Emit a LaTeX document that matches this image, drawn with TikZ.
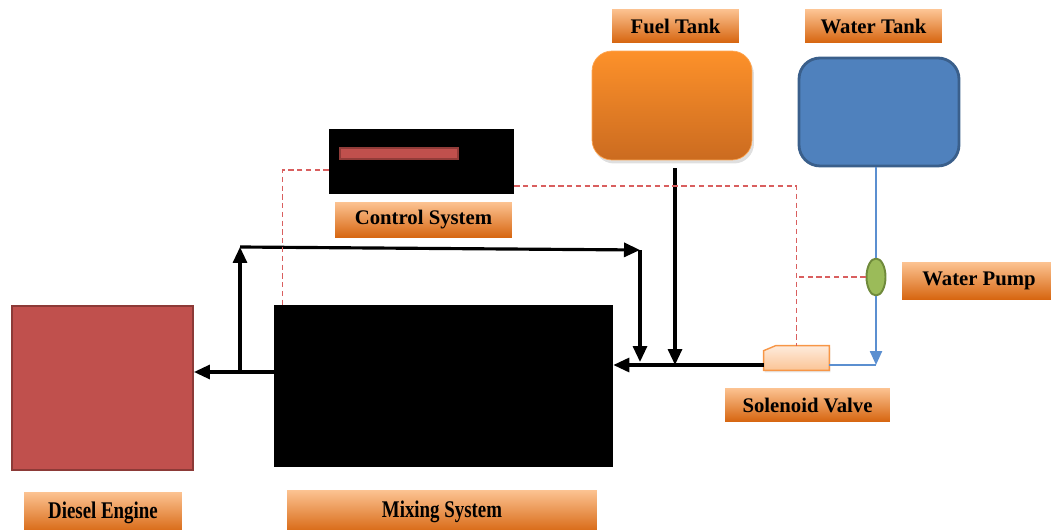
\documentclass[tikz,border=0pt]{standalone}
\usepackage{fontspec}
\setmainfont{Liberation Serif}
\newfontfamily\narrowserif{Liberation Serif}[FakeStretch=0.79]
\usepackage{tikz}
\usetikzlibrary{arrows.meta}
\usetikzlibrary{shapes.geometric}
\usetikzlibrary{shadows}

\definecolor{lbltop}{HTML}{FCC392}
\definecolor{lblbot}{HTML}{D6640E}
\definecolor{fueltop}{HTML}{FD912A}
\definecolor{fuelbot}{HTML}{CB6B20}
\definecolor{waterfill}{HTML}{4F81BD}
\definecolor{waterline}{HTML}{3A5F8B}
\definecolor{enginefill}{HTML}{C0504D}
\definecolor{engineline}{HTML}{8C3A37}
\definecolor{pumpfill}{HTML}{9BBB59}
\definecolor{pumpline}{HTML}{6F8A3B}
\definecolor{valvetop}{HTML}{FEEBDC}
\definecolor{valvebot}{HTML}{FBC495}
\definecolor{valveline}{HTML}{F79646}
\definecolor{pipeblue}{HTML}{5B8FD0}
\definecolor{sigred}{HTML}{D95F5F}

\tikzset{
  tag/.style={top color=lbltop, bottom color=lblbot, inner sep=0pt,
    font=\bfseries\fontsize{11.8}{13}\selectfont},
  smalltag/.style={tag, font=\narrowserif\bfseries\fontsize{13.6}{15}\selectfont},
  flow/.style={line width=1.8pt, -{Triangle[length=3.2mm,width=2.8mm]}},
  pipe/.style={pipeblue, line width=1.3pt},
  signal/.style={sigred, line width=0.6pt, dash pattern=on 3pt off 2pt},
}

\begin{document}
\begin{tikzpicture}[x=0.02cm,y=-0.02cm]

\useasboundingbox (0,0) rectangle (1051,530);

% tanks
\node [tag, minimum width=2.54cm, minimum height=0.68cm] (fuellbl) at (675.5,26) {Fuel Tank};
\node [top color=fueltop, bottom color=fuelbot, draw=fueltop!80!white, rounded corners=0.4cm,
       minimum width=3.2cm, minimum height=2.18cm,
       drop shadow={shadow xshift=0.04cm, shadow yshift=-0.07cm, opacity=0.25}] (fuel) at (672,105.5) {};

\node [tag, minimum width=2.74cm, minimum height=0.66cm] (waterlbl) at (873.5,26.5) {Water Tank};
\node [fill=waterfill, draw=waterline, line width=1.6pt, rounded corners=0.42cm,
       minimum width=3.2cm, minimum height=2.16cm] (water) at (879,112) {};

% control
\node [fill=black, minimum width=3.7cm, minimum height=1.3cm, inner sep=0pt] (ctrl) at (421.5,161.5) {};
\node [fill=enginefill, draw=engineline!90!enginefill, line width=0.9pt,
       minimum width=2.36cm, minimum height=0.22cm, inner sep=0pt] (bar) at (399,153.5) {};
\node [tag, minimum width=3.54cm, minimum height=0.72cm] (ctrllbl) at (423.5,220) {Control System};

% mixing and engine
\node [fill=black, minimum width=6.78cm, minimum height=3.24cm, inner sep=0pt] (mix) at (443.5,386) {};
\node [smalltag, minimum width=6.2cm, minimum height=0.88cm] (mixlbl) at (442,512) {Mixing System};

\node [fill=enginefill, draw=engineline, line width=1.1pt,
       minimum width=3.62cm, minimum height=3.28cm, inner sep=0pt] (engine) at (102.5,388) {};
\node [smalltag, minimum width=3.16cm, minimum height=0.84cm] (englbl) at (103,513) {Diesel Engine};

% pump and valve
\node [ellipse, fill=pumpfill, draw=pumpline, line width=1.1pt,
       minimum width=0.38cm, minimum height=0.74cm, inner sep=0pt] (pump) at (876,277) {};
\node [tag, minimum width=3.08cm, minimum height=0.76cm] (pumplbl) at (979,281) {Water Pump};

\node [minimum width=1.3cm, minimum height=0.48cm, inner sep=0pt] (valve) at (796.5,358) {};
\draw [top color=valvetop, bottom color=valvebot, draw=valveline, line width=0.8pt,
       drop shadow={shadow xshift=0.02cm, shadow yshift=-0.04cm, opacity=0.2}]
     (valve.south west) -- ([yshift=-0.1cm]valve.north west) -- ([xshift=0.24cm]valve.north west)
     -- (valve.north east) -- (valve.south east) -- cycle;
\node [tag, minimum width=3.3cm, minimum height=0.68cm] (valvelbl) at (807.5,405) {Solenoid Valve};

% joints
\coordinate (mixin) at ([yshift=0.42cm]mix.east);
\coordinate (mixout) at ([yshift=0.28cm]mix.west);
\coordinate (looptl) at (240,247);
\coordinate (looptr) at (640,250);
\coordinate (wjn) at (pump.south |- mixin);

% black lines
\draw [flow] (valve.west |- mixin) -- (mixin);
\draw [flow] ([xshift=0.06cm,yshift=-0.16cm]fuel.south) -- ([xshift=0.06cm]fuel.south |- mixin);
\draw [flow] (mixout) -- (mixout -| engine.east);
\draw [flow] (mixout -| looptl) -- (looptl);
\draw [flow] (looptl) -- (looptr);
\draw [flow] (looptr) -- ([yshift=0.06cm]looptr |- mixin);

% water lines
\draw [pipe] (pump.north |- water.south) -- (pump.north);
\draw [pipe, -{Triangle[length=2.8mm,width=2.4mm]}] (pump.south) -- (wjn);
\draw [pipe] (valve.east |- wjn) -- (wjn);

% signal lines
\draw [signal] ([yshift=-0.17cm]ctrl.west) -| ([xshift=0.18cm]mix.north west);
\draw [signal] ([yshift=-0.49cm]ctrl.east) -| (valve.north);
\draw [signal] (pump.west) -- (pump.west -| valve.north);

\end{tikzpicture}
\end{document}
